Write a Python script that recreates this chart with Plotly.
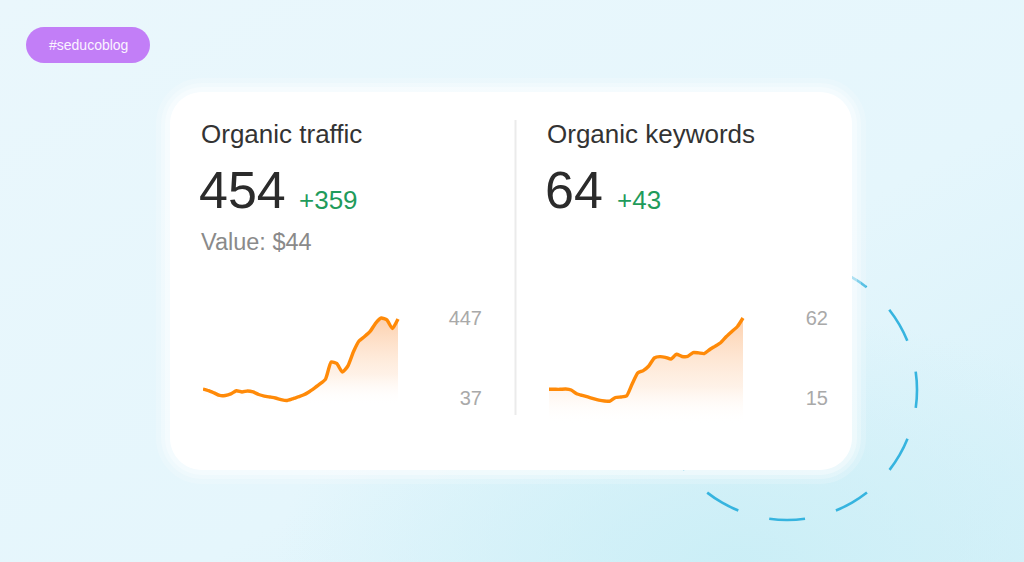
import plotly.graph_objects as go

# ---------------- data ----------------
traffic_days = list(range(36))
traffic_values = [83, 75, 63, 50, 50, 58, 74, 68, 73, 68, 55, 47, 42, 37, 29, 24, 32, 42,
                  52, 68, 88, 109, 134, 221, 214, 170, 201, 274, 329, 352, 378, 421, 447,
                  437, 393, 442]
traffic_ticks = [37, 447]

keyword_days = list(range(36))
keyword_values = [20.1, 20.1, 20.1, 20.3, 19.7, 17.5, 16.5, 15.6, 14.6, 13.7, 13.2, 13.2,
                  15.3, 15.6, 16.2, 23.2, 29.7, 31.1, 33.8, 38.5, 39.3, 38.9, 37.9, 40.7,
                  39.4, 39.4, 41.7, 41.5, 41.1, 43.5, 45.5, 47.6, 51.1, 54.1, 57.0, 62.0]
keyword_ticks = [15, 62]

cards = [
    {"title": "Organic traffic", "value": "454", "delta": "+359", "sub": "Value: $44"},
    {"title": "Organic keywords", "value": "64", "delta": "+43", "sub": None},
]
tag_text = "#seducoblog"

# ---------------- layout helpers ----------------
W, H = 1024, 562
def px(x):
    return x / W
def py(y):
    return 1 - y / H

def rounded_rect(x0, y0, x1, y1, r):
    k = 0.5523 * r
    pts = [
        f"M {px(x0 + r)} {py(y0)}",
        f"L {px(x1 - r)} {py(y0)}",
        f"C {px(x1 - r + k)} {py(y0)} {px(x1)} {py(y0 + r - k)} {px(x1)} {py(y0 + r)}",
        f"L {px(x1)} {py(y1 - r)}",
        f"C {px(x1)} {py(y1 - r + k)} {px(x1 - r + k)} {py(y1)} {px(x1 - r)} {py(y1)}",
        f"L {px(x0 + r)} {py(y1)}",
        f"C {px(x0 + r - k)} {py(y1)} {px(x0)} {py(y1 - r + k)} {px(x0)} {py(y1 - r)}",
        f"L {px(x0)} {py(y0 + r)}",
        f"C {px(x0)} {py(y0 + r - k)} {px(x0 + r - k)} {py(y0)} {px(x0 + r)} {py(y0)}",
        "Z",
    ]
    return " ".join(pts)

FONT = "Liberation Sans, Arial, Helvetica, sans-serif"
ORANGE = "#ff8a08"

fig = go.Figure()

spark = [
    dict(xs=203, xe=398, xr=485, yt=296, yb=418, t0=398, t1=318,
         days=traffic_days, vals=traffic_values, ticks=traffic_ticks),
    dict(xs=549, xe=743, xr=831, yt=296, yb=426, t0=398, t1=318,
         days=keyword_days, vals=keyword_values, ticks=keyword_ticks),
]

for i, s in enumerate(spark):
    n = len(s["days"]) - 1
    step = (s["xe"] - s["xs"]) / n
    xr_hi = (s["xr"] - s["xs"]) / step
    vpp = (s["ticks"][1] - s["ticks"][0]) / (s["t0"] - s["t1"])
    y_lo = s["ticks"][0] - (s["yb"] - s["t0"]) * vpp
    y_hi = s["ticks"][0] + (s["t0"] - s["yt"]) * vpp
    xa = "x" if i == 0 else "x2"
    ya = "y" if i == 0 else "y2"
    fig.add_trace(go.Scatter(
        x=s["days"], y=s["vals"], xaxis=xa, yaxis=ya, mode="lines",
        line=dict(color=ORANGE, width=3.4, shape="spline", smoothing=0.5),
        fill="tozeroy",
        fillgradient=dict(type="vertical",
                          colorscale=[[0, "rgba(255,255,255,0)"],
                                      [0.35, "rgba(254,222,196,0.4)"],
                                      [1, "rgba(252,196,152,0.8)"]],
                          start=0, stop=max(s["vals"])),
        hoverinfo="skip", showlegend=False,
    ))
    suffix = "" if i == 0 else "2"
    fig.update_layout(**{
        f"xaxis{suffix}": dict(domain=[px(s["xs"]), px(s["xr"])], range=[0, xr_hi],
                               visible=False, fixedrange=True, anchor=ya),
        f"yaxis{suffix}": dict(domain=[py(s["yb"]), py(s["yt"])], range=[y_lo, y_hi],
                               side="right", ticklabelposition="inside",
                               tickvals=s["ticks"], ticktext=[str(t) for t in s["ticks"]],
                               showgrid=False, zeroline=False, showline=False, ticks="",
                               tickfont=dict(family=FONT, size=20, color="#a9a9a9"),
                               anchor=xa, fixedrange=True),
    })

# ---------------- background decorations ----------------
bg_svg = ("data:image/svg+xml;utf8,"
          "<svg xmlns='http://www.w3.org/2000/svg' width='1024' height='562'>"
          "<defs><linearGradient id='g' x1='0' y1='0' x2='1' y2='1'>"
          "<stop offset='0' stop-color='%23eaf7fc'/>"
          "<stop offset='0.6' stop-color='%23e5f6fc'/>"
          "<stop offset='1' stop-color='%23d6f1f9'/></linearGradient>"
          "<radialGradient id='r' cx='0.72' cy='1.0' r='0.45'>"
          "<stop offset='0' stop-color='%23c9eef6' stop-opacity='0.9'/>"
          "<stop offset='1' stop-color='%23c9eef6' stop-opacity='0'/></radialGradient></defs>"
          "<rect width='1024' height='562' fill='url(%23g)'/>"
          "<rect width='1024' height='562' fill='url(%23r)'/></svg>")
fig.add_layout_image(dict(source=bg_svg, xref="paper", yref="paper", x=0, y=1,
                          sizex=1, sizey=1, xanchor="left", yanchor="top",
                          sizing="stretch", layer="below"))

shapes = []
cx, cy, r = 787, 390, 130
shapes.append(dict(type="circle", xref="paper", yref="paper",
                   x0=px(cx - r), x1=px(cx + r), y0=py(cy + r), y1=py(cy - r),
                   line=dict(color="#36b4df", width=2.6, dash="18px,32px,18px,0px"),
                   layer="below"))
# soft card glow
for pad, op in [(14, 0.18), (9, 0.25), (5, 0.35)]:
    shapes.append(dict(type="path", xref="paper", yref="paper",
                       path=rounded_rect(170 - pad, 92 - pad, 852 + pad, 470 + pad, 32 + pad),
                       fillcolor=f"rgba(255,255,255,{op})", line=dict(width=0), layer="below"))
shapes.append(dict(type="path", xref="paper", yref="paper",
                   path=rounded_rect(170, 92, 852, 470, 32),
                   fillcolor="#ffffff", line=dict(width=0), layer="below"))
shapes.append(dict(type="line", xref="paper", yref="paper",
                   x0=px(515.5), x1=px(515.5), y0=py(120), y1=py(415),
                   line=dict(color="#ebebeb", width=2), layer="below"))
shapes.append(dict(type="path", xref="paper", yref="paper",
                   path=rounded_rect(26, 27, 150, 63, 18),
                   fillcolor="#c27ef7", line=dict(width=0), layer="below"))
fig.update_layout(shapes=shapes)

ann = []
ann.append(dict(text=tag_text, x=px(88), y=py(45), xref="paper", yref="paper",
                xanchor="center", yanchor="middle", showarrow=False,
                font=dict(family=FONT, size=14, color="#fbf4ff")))
col_x = [201, 547]
big_w = [98, 70]
for i, c in enumerate(cards):
    x0 = col_x[i]
    ann.append(dict(text=c["title"], x=px(x0 - 2), y=py(134), xref="paper", yref="paper",
                    xanchor="left", yanchor="middle", showarrow=False,
                    font=dict(family=FONT, size=26, color="#333333")))
    ann.append(dict(text=c["value"], x=px(x0 - 4), y=py(190), xref="paper", yref="paper",
                    xanchor="left", yanchor="middle", showarrow=False,
                    font=dict(family=FONT, size=52, color="#2b2b2b")))
    ann.append(dict(text=c["delta"], x=px(x0 + big_w[i] - 2), y=py(200), xref="paper", yref="paper",
                    xanchor="left", yanchor="middle", showarrow=False,
                    font=dict(family=FONT, size=26, color="#1f9b5b")))
    if c["sub"]:
        ann.append(dict(text=c["sub"], x=px(x0 - 2), y=py(242), xref="paper", yref="paper",
                        xanchor="left", yanchor="middle", showarrow=False,
                        font=dict(family=FONT, size=23.5, color="#8a8a8a")))
fig.update_layout(annotations=ann)

fig.update_layout(
    width=W, height=H, autosize=False,
    margin=dict(l=0, r=0, t=0, b=0),
    paper_bgcolor="#e6f5fb", plot_bgcolor="rgba(0,0,0,0)",
    showlegend=False,
)

fig.write_html("out.html", config={"displayModeBar": False},
               post_script="document.body.style.margin='0';document.body.style.overflow='hidden';")
